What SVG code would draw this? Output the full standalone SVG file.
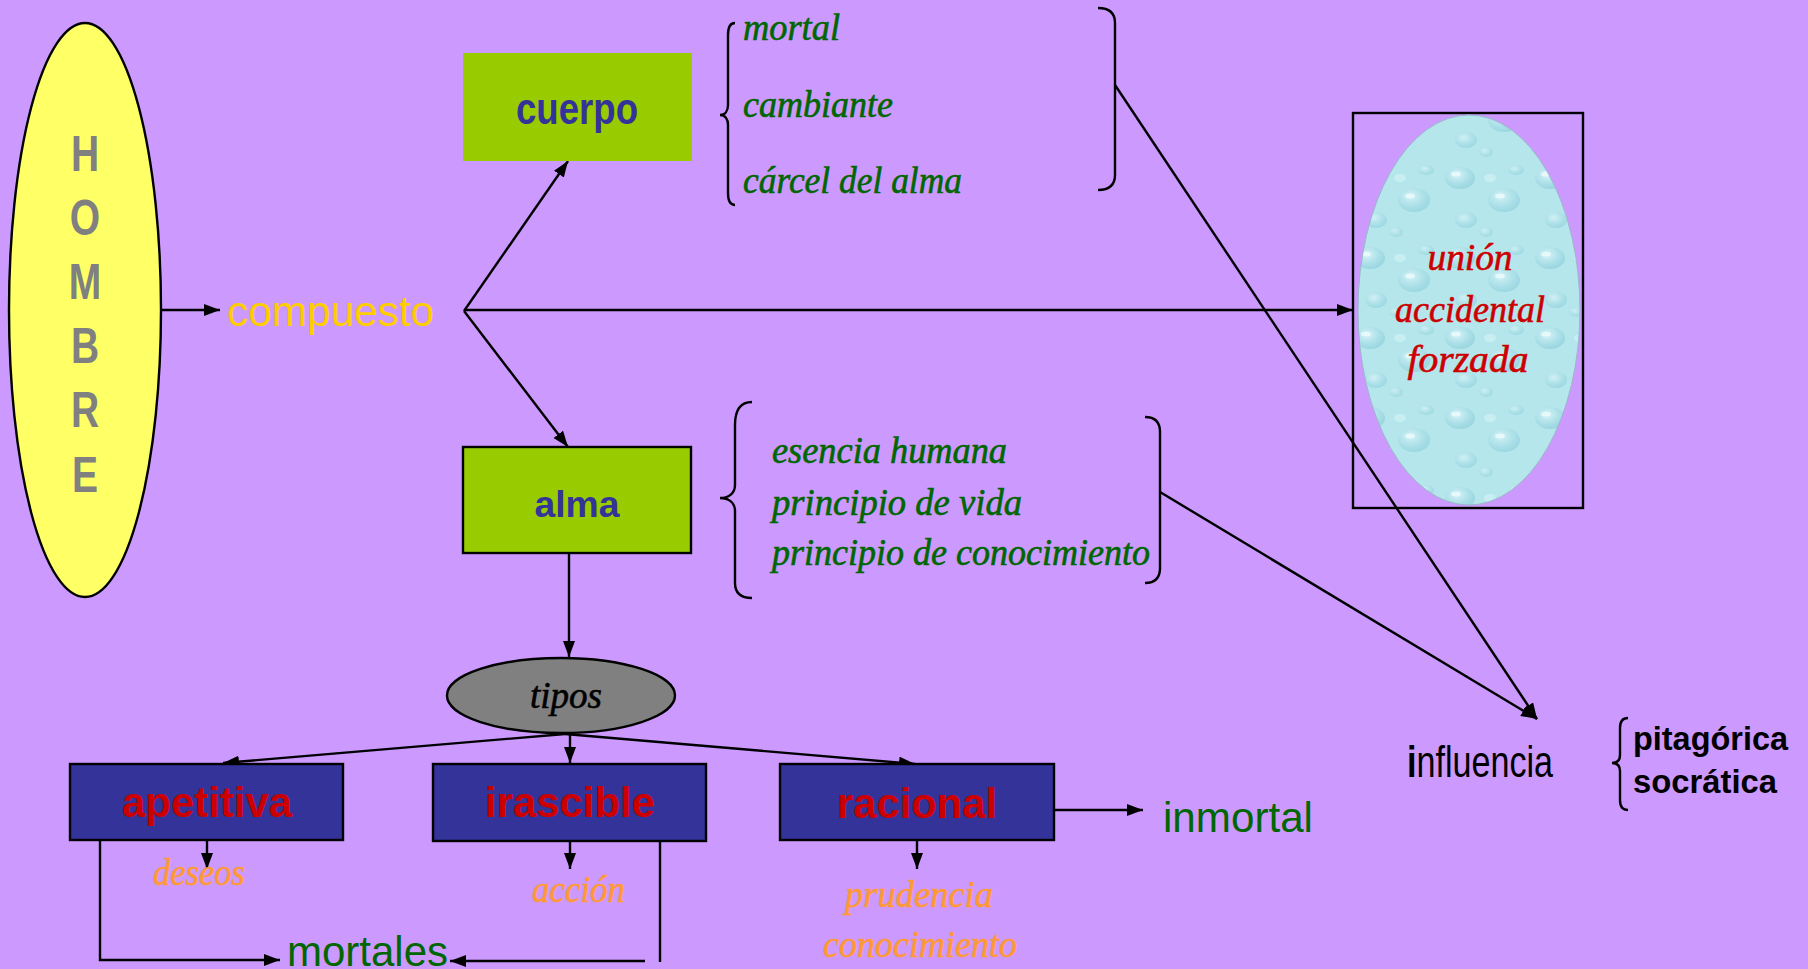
<svg xmlns="http://www.w3.org/2000/svg" width="1808" height="969" viewBox="0 0 1808 969">
<style>
.ln{stroke:#000;stroke-width:2.4;fill:none}
.ar{marker-end:url(#ah)}
.br{stroke:#000;stroke-width:2.4;fill:none}
.it{font-family:"Liberation Serif","Times New Roman",serif;font-style:italic;stroke-width:0.6}
.sa{font-family:"Liberation Sans",Arial,sans-serif}
.bd{font-family:"Liberation Sans",Arial,sans-serif;font-weight:bold}
.grn{fill:#006600}
.it.grn{stroke:#006600}
.org{fill:#FF9933}
.it.org{stroke:#FF9933}
.red{fill:#CC0000}
.it.red{stroke:#CC0000}
.bluebox{fill:#333399;stroke:#000;stroke-width:2.4}
</style>
<defs>
<marker id="ah" markerUnits="userSpaceOnUse" markerWidth="17" markerHeight="13" refX="16" refY="6" orient="auto">
<path d="M0,0 L16,6 L0,12 z" fill="#000"/>
</marker>
<radialGradient id="drop" cx="0.4" cy="0.35" r="0.7">
<stop offset="0" stop-color="#E2F8FB"/>
<stop offset="0.6" stop-color="#A6DCE5"/>
<stop offset="1" stop-color="#8ACCD8"/>
</radialGradient>
<pattern id="water" patternUnits="userSpaceOnUse" width="90" height="80">
<rect width="90" height="80" fill="#B4E6EC"/>
<ellipse cx="20" cy="18" rx="15" ry="11" fill="url(#drop)" opacity="0.7"/>
<ellipse cx="64" cy="40" rx="16" ry="12" fill="url(#drop)" opacity="0.65"/>
<ellipse cx="26" cy="60" rx="11" ry="8" fill="url(#drop)" opacity="0.6"/>
<ellipse cx="76" cy="10" rx="8" ry="5" fill="url(#drop)" opacity="0.55"/>
<ellipse cx="46" cy="72" rx="7" ry="5" fill="url(#drop)" opacity="0.5"/>
<ellipse cx="16" cy="14" rx="5" ry="2.5" fill="#F2FDFE" opacity="0.7"/>
<ellipse cx="60" cy="36" rx="5" ry="2.5" fill="#F2FDFE" opacity="0.7"/>
<ellipse cx="50" cy="18" rx="6" ry="4" fill="#D6F3F6" opacity="0.6"/>
</pattern>
</defs>
<rect width="1808" height="969" fill="#CC99FF"/>

<g id="connectors">
<line class="ln ar" x1="161" y1="310" x2="220" y2="310"/>
<line class="ln ar" x1="464" y1="311" x2="568" y2="161"/>
<line class="ln ar" x1="464" y1="311" x2="568" y2="447"/>
<line class="ln ar" x1="464" y1="310" x2="1353" y2="310"/>
<line class="ln ar" x1="1115" y1="85" x2="1537" y2="719"/>
<line class="ln ar" x1="1160" y1="492" x2="1537" y2="719"/>
<line class="ln ar" x1="569" y1="553" x2="569" y2="657"/>
<line class="ln ar" x1="565" y1="734" x2="223" y2="763"/>
<line class="ln ar" x1="570" y1="734" x2="570" y2="763"/>
<line class="ln ar" x1="565" y1="734" x2="915" y2="764"/>
<line class="ln ar" x1="207" y1="840" x2="207" y2="869"/>
<line class="ln ar" x1="570" y1="841" x2="570" y2="869"/>
<line class="ln ar" x1="917" y1="840" x2="917" y2="869"/>
<line class="ln ar" x1="1054" y1="810" x2="1143" y2="810"/>
<polyline class="ln ar" points="100,840 100,960 280,960"/>
<line class="ln" x1="660" y1="841" x2="660" y2="962"/>
<line class="ln ar" x1="645" y1="961" x2="450" y2="961"/>
</g>

<g id="hombre">
<ellipse cx="85" cy="310" rx="76" ry="287" fill="#FFFF66" stroke="#000" stroke-width="2.4"/>
<g transform="translate(85 0) scale(0.78 1)" class="bd" font-size="50" fill="#808080" text-anchor="middle">
<text x="0" y="171">H</text>
<text x="0" y="235">O</text>
<text x="0" y="299">M</text>
<text x="0" y="363">B</text>
<text x="0" y="427">R</text>
<text x="0" y="492">E</text>
</g>
</g>

<g id="compuesto">
<text class="sa" x="227" y="326" font-size="42" fill="#FFCC00" textLength="207" lengthAdjust="spacingAndGlyphs">compuesto</text>
</g>

<g id="cuerpo">
<rect x="463" y="53" width="229" height="108" fill="#99CC00"/>
<text class="bd" x="577" y="124" font-size="45" fill="#333399" text-anchor="middle" textLength="122" lengthAdjust="spacingAndGlyphs">cuerpo</text>
</g>

<g id="cuerpo-props">
<path class="br" d="M735,23 C730,23 728,28 728,35 L728,105 C728,111 725,115 720,115 C725,115 728,119 728,125 L728,193 C728,200 730,205 735,205"/>
<text class="it grn" x="743" y="40" font-size="38" textLength="97" lengthAdjust="spacingAndGlyphs">mortal</text>
<text class="it grn" x="743" y="117" font-size="38" textLength="150" lengthAdjust="spacingAndGlyphs">cambiante</text>
<text class="it grn" x="743" y="193" font-size="38" textLength="219" lengthAdjust="spacingAndGlyphs">cárcel del alma</text>
<path class="br" d="M1098,8 C1110,8 1115,13 1115,23 L1115,175 C1115,185 1110,190 1098,190"/>
</g>

<g id="alma">
<rect x="463" y="447" width="228" height="106" fill="#99CC00" stroke="#000" stroke-width="2.4"/>
<text class="bd" x="577" y="517" font-size="37" fill="#333399" text-anchor="middle" textLength="85" lengthAdjust="spacingAndGlyphs">alma</text>
</g>

<g id="alma-props">
<path class="br" d="M752,402 C740,402 735,410 735,425 L735,485 C735,494 728,498 720,498 C728,498 735,502 735,511 L735,583 C735,592 740,598 752,598"/>
<text class="it grn" x="772" y="463" font-size="37" textLength="235" lengthAdjust="spacingAndGlyphs">esencia humana</text>
<text class="it grn" x="772" y="515" font-size="37" textLength="250" lengthAdjust="spacingAndGlyphs">principio de vida</text>
<text class="it grn" x="772" y="565" font-size="37" textLength="378" lengthAdjust="spacingAndGlyphs">principio de conocimiento</text>
<path class="br" d="M1145,417 C1155,417 1160,422 1160,432 L1160,568 C1160,578 1155,583 1145,583"/>
</g>

<g id="union">
<rect x="1353" y="113" width="230" height="395" fill="none" stroke="#000" stroke-width="2.4"/>
<ellipse cx="1469" cy="310" rx="111" ry="195" fill="url(#water)" stroke="#9AB8C8" stroke-width="1"/>
<text class="it red" x="1470" y="270" font-size="38" text-anchor="middle" textLength="85" lengthAdjust="spacingAndGlyphs">unión</text>
<text class="it red" x="1470" y="322" font-size="38" text-anchor="middle" textLength="150" lengthAdjust="spacingAndGlyphs">accidental</text>
<text class="it red" x="1468" y="372" font-size="38" text-anchor="middle" textLength="121" lengthAdjust="spacingAndGlyphs">forzada</text>
</g>

<g id="tipos">
<ellipse cx="561" cy="695.5" rx="114" ry="37.5" fill="#808080" stroke="#000" stroke-width="2.4"/>
<text class="it" x="530" y="708" font-size="38" fill="#000" stroke="#000" textLength="72" lengthAdjust="spacingAndGlyphs">tipos</text>
</g>

<g id="apetitiva">
<rect class="bluebox" x="70" y="764" width="273" height="76"/>
<text class="bd red" x="207" y="817" font-size="42" text-anchor="middle" textLength="170" lengthAdjust="spacingAndGlyphs">apetitiva</text>
</g>
<g id="irascible">
<rect class="bluebox" x="433" y="764" width="273" height="77"/>
<text class="bd red" x="570" y="817" font-size="42" text-anchor="middle" textLength="170" lengthAdjust="spacingAndGlyphs">irascible</text>
</g>
<g id="racional">
<rect class="bluebox" x="780" y="764" width="274" height="76"/>
<text class="bd red" x="917" y="818" font-size="42" text-anchor="middle" textLength="160" lengthAdjust="spacingAndGlyphs">racional</text>
</g>

<g id="deseos"><text class="it org" x="153" y="885" font-size="38" textLength="92" lengthAdjust="spacingAndGlyphs">deseos</text></g>
<g id="accion"><text class="it org" x="532" y="902" font-size="38" textLength="93" lengthAdjust="spacingAndGlyphs">acción</text></g>
<g id="prudencia">
<text class="it org" x="845" y="907" font-size="38" textLength="148" lengthAdjust="spacingAndGlyphs">prudencia</text>
<text class="it org" x="823" y="957" font-size="38" textLength="194" lengthAdjust="spacingAndGlyphs">conocimiento</text>
</g>
<g id="inmortal"><text class="sa grn" x="1163" y="832" font-size="42" textLength="150" lengthAdjust="spacingAndGlyphs">inmortal</text></g>
<g id="mortales"><text class="sa grn" x="287" y="966" font-size="42" textLength="161" lengthAdjust="spacingAndGlyphs">mortales</text></g>

<g id="influencia">
<text class="sa" x="1407" y="777" font-size="44" fill="#000" textLength="146" lengthAdjust="spacingAndGlyphs"><tspan font-weight="bold">i</tspan>nfluencia</text>
<path class="br" d="M1628,718 C1622,718 1620,722 1620,728 L1620,755 C1620,760 1617,763 1612,763 C1617,763 1620,766 1620,771 L1620,800 C1620,806 1622,810 1628,810"/>
<text class="bd" x="1633" y="750" font-size="33" fill="#000" textLength="155" lengthAdjust="spacingAndGlyphs">pitagórica</text>
<text class="bd" x="1633" y="793" font-size="33" fill="#000" textLength="144" lengthAdjust="spacingAndGlyphs">socrática</text>
</g>
</svg>
